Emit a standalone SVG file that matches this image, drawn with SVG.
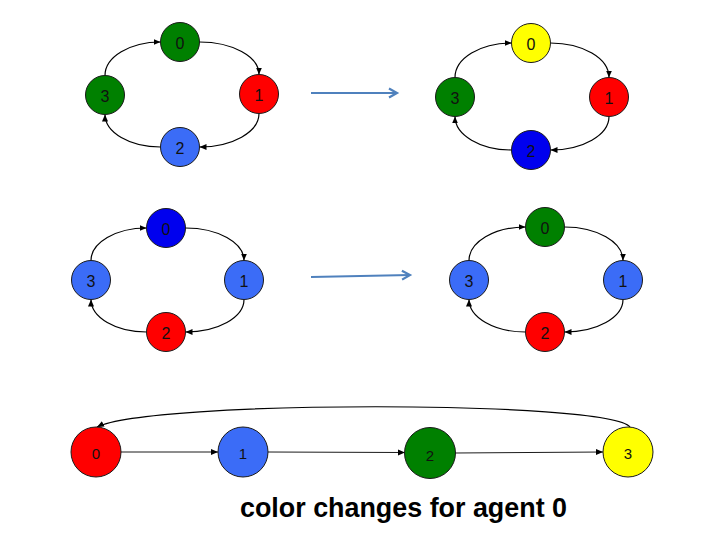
<svg xmlns="http://www.w3.org/2000/svg" width="720" height="540" viewBox="0 0 720 540">
<defs>
<marker id="ah" markerUnits="userSpaceOnUse" markerWidth="8" markerHeight="8" refX="7" refY="3" orient="auto">
<path d="M0,0 L7,3 L0,6 z" fill="#000"/>
</marker>
<marker id="bh" markerUnits="userSpaceOnUse" markerWidth="12" markerHeight="12" refX="9" refY="6" orient="auto">
<path d="M1,1.5 L9,6 L1,10.5" fill="none" stroke="#4f81bd" stroke-width="2.2"/>
</marker>
</defs>
<style>
.n{stroke:#1a1a1a;stroke-width:1}
.g{fill:#008000}.r{fill:#ff0000}.lb{fill:#3b6cf7}.db{fill:#0000ee}.y{fill:#ffff00}
.t{font-family:"Liberation Sans",Arial,sans-serif;font-size:16px;fill:#111;text-anchor:middle;dominant-baseline:central}
.e{fill:none;stroke:#000;stroke-width:1.2;marker-end:url(#ah)}
.s{fill:none;stroke:#000;stroke-width:0.9;marker-end:url(#ah)}
.b{fill:none;stroke:#4f81bd;stroke-width:2.2;marker-end:url(#bh)}
</style>
<g id="connectors">
<path class="e" d="M199.5 42 A59.5 32.5 0 0 1 259 74.5"/>
<path class="e" d="M259 113.5 A59.5 33.5 0 0 1 199.5 147"/>
<path class="e" d="M160.5 147 A55.5 32.5 0 0 1 105 114.5"/>
<path class="e" d="M105 75.5 A55.5 33.5 0 0 1 160.5 42"/>
<path class="e" d="M550.5 43 A58.5 34.5 0 0 1 609 77.5"/>
<path class="e" d="M609 116.5 A58.5 33.5 0 0 1 550.5 150"/>
<path class="e" d="M511.5 150 A56.5 33.5 0 0 1 455 116.5"/>
<path class="e" d="M455 77.5 A56.5 34.5 0 0 1 511.5 43"/>
<path class="e" d="M185.5 228 A58.5 32.5 0 0 1 244 260.5"/>
<path class="e" d="M244 299.5 A58.5 32.5 0 0 1 185.5 332"/>
<path class="e" d="M146.5 332 A55.5 32.5 0 0 1 91 299.5"/>
<path class="e" d="M91 260.5 A55.5 32.5 0 0 1 146.5 228"/>
<path class="e" d="M564.5 227 A58.5 33.5 0 0 1 623 260.5"/>
<path class="e" d="M623 299.5 A58.5 32.5 0 0 1 564.5 332"/>
<path class="e" d="M525.5 332 A56.5 32.5 0 0 1 469 299.5"/>
<path class="e" d="M469 260.5 A56.5 33.5 0 0 1 525.5 227"/>
<path class="s" d="M121 452 L218 452"/>
<path class="s" d="M268 452 L405 452.5"/>
<path class="s" d="M455 453 L603 452"/>
<path class="e" d="M630 427 C610 400 150 400 97 427"/>
<path class="b" d="M311 93 L397 93"/>
<path class="b" d="M311 277 L410 275"/>
</g>
<g id="tl0"><circle class="n g" cx="180" cy="42" r="19.5"/><text class="t" x="180" y="43">0</text></g>
<g id="tl1"><circle class="n r" cx="259" cy="94" r="19.5"/><text class="t" x="259" y="95">1</text></g>
<g id="tl2"><circle class="n lb" cx="180" cy="147" r="19.5"/><text class="t" x="180" y="148">2</text></g>
<g id="tl3"><circle class="n g" cx="105" cy="95" r="19.5"/><text class="t" x="105" y="96">3</text></g>
<g id="tr0"><circle class="n y" cx="531" cy="43" r="19.5"/><text class="t" x="531" y="44">0</text></g>
<g id="tr1"><circle class="n r" cx="609" cy="97" r="19.5"/><text class="t" x="609" y="98">1</text></g>
<g id="tr2"><circle class="n db" cx="531" cy="150" r="19.5"/><text class="t" x="531" y="151">2</text></g>
<g id="tr3"><circle class="n g" cx="455" cy="97" r="19.5"/><text class="t" x="455" y="98">3</text></g>
<g id="ml0"><circle class="n db" cx="166" cy="228" r="19.5"/><text class="t" x="166" y="229">0</text></g>
<g id="ml1"><circle class="n lb" cx="244" cy="280" r="19.5"/><text class="t" x="244" y="281">1</text></g>
<g id="ml2"><circle class="n r" cx="166" cy="332" r="19.5"/><text class="t" x="166" y="333">2</text></g>
<g id="ml3"><circle class="n lb" cx="91" cy="280" r="19.5"/><text class="t" x="91" y="281">3</text></g>
<g id="mr0"><circle class="n g" cx="545" cy="227" r="19.5"/><text class="t" x="545" y="228">0</text></g>
<g id="mr1"><circle class="n lb" cx="623" cy="280" r="19.5"/><text class="t" x="623" y="281">1</text></g>
<g id="mr2"><circle class="n r" cx="545" cy="332" r="19.5"/><text class="t" x="545" y="333">2</text></g>
<g id="mr3"><circle class="n lb" cx="469" cy="280" r="19.5"/><text class="t" x="469" y="281">3</text></g>
<g id="b0"><circle class="n r" cx="96" cy="452" r="25"/><text class="t" x="96" y="453" style="font-size:15px">0</text></g>
<g id="b1"><circle class="n lb" cx="243" cy="452" r="25"/><text class="t" x="243" y="453" style="font-size:15px">1</text></g>
<g id="b2"><circle class="n g" cx="430" cy="453" r="25.5"/><text class="t" x="430" y="455" style="font-size:15px">2</text></g>
<g id="b3"><circle class="n y" cx="628" cy="452" r="25"/><text class="t" x="628" y="453" style="font-size:15px">3</text></g>
<text x="240" y="517" font-family="'Liberation Sans',Arial,sans-serif" font-weight="bold" font-size="28" textLength="327" lengthAdjust="spacingAndGlyphs" fill="#000">color changes for agent 0</text>
</svg>
